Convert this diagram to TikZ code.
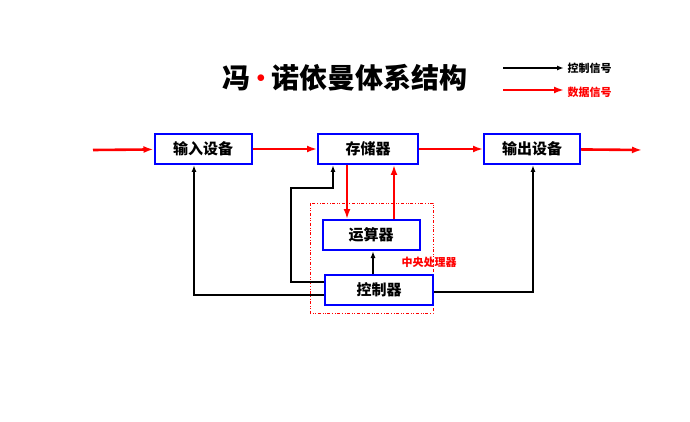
\documentclass[tikz,border=0pt]{standalone}
\usepackage{fontspec}
\newfontfamily\cjk{Noto Sans CJK SC}
\usetikzlibrary{arrows.meta,positioning}
\tikzset{
  unit/.style={draw=blue,line width=2pt,fill=white,minimum height=30pt,font=\cjk\bfseries\fontsize{15}{15}\selectfont,inner sep=0pt},
  data/.style={red,line width=2.6pt,-{Latex[length=10pt,width=7pt]}},
  ctrl/.style={black,line width=1.8pt,-{Latex[length=7pt,width=5pt]}}
}
\begin{document}
\begin{tikzpicture}[x=1pt,y=-1pt]
\useasboundingbox (0,0) rectangle (690,422);
% title and legend
\node[font=\cjk\bfseries\fontsize{28}{28}\selectfont] (title) at (345,78) {冯\hspace{6pt}\raisebox{6pt}{\color{red}\fontsize{16}{16}\selectfont$\bullet$}\hspace{6pt}诺依曼体系结构};
\coordinate (c1) at (503,68); \coordinate (c2) at (564,68);
\coordinate (d1) at (503,90); \coordinate (d2) at (564,90);
\draw[ctrl,line width=2.4pt] (c1) -- (c2);
\draw[data] (d1) -- (d2);
\node[font=\cjk\bfseries\fontsize{11}{11}\selectfont,anchor=west] (lc) at (564,68) {控制信号};
\node[font=\cjk\bfseries\fontsize{11}{11}\selectfont,anchor=west,red] (ld) at (564,92) {数据信号};
% cpu frame
\draw[red,dash dot dot,thin] (310,203) rectangle (433,313);
\node[red,font=\cjk\bfseries\fontsize{11}{11}\selectfont,anchor=west] (cpu) at (398,262) {中央处理器};
% units
\node[unit,minimum width=97pt] (in) at (203,149) {输入设备};
\node[unit,minimum width=100pt] (mem) at (368,149) {存储器};
\node[unit,minimum width=96pt] (out) at (532,149) {输出设备};
\node[unit,minimum width=97pt] (alu) at (371,235) {运算器};
\node[unit,minimum width=108pt] (cu) at (379,290) {控制器};
% data flow
\coordinate (src) at (93,150); \coordinate (dst) at (642,150);
\draw[data] (src) -- (in);
\draw[data] (in) -- (mem);
\draw[data] (mem) -- (out);
\draw[data] (out) -- (dst);
\draw[data] (mem.south -| 347,0) -- (alu.north -| 347,0);
\draw[data] (alu.north -| 394,0) -- (mem.south -| 394,0);
% control flow
\draw[ctrl] (cu.west |- 0,282) -| (291,188) -| (mem.south -| 333,0);
\draw[ctrl] (cu.north -| 373,0) -- (alu.south -| 373,0);
\draw[ctrl] (cu.west |- 0,295) -| (in.south -| 194,0);
\draw[ctrl] (cu.east |- 0,292) -| (out.south -| 533,0);
\end{tikzpicture}
\end{document}
